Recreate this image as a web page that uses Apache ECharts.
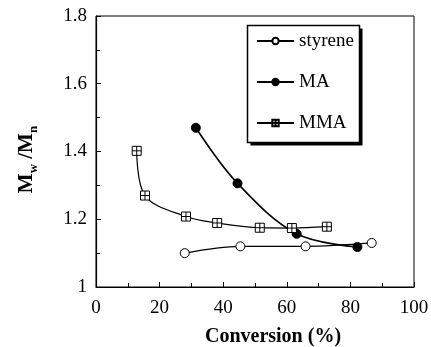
<!DOCTYPE html>
<html>
<head>
<meta charset="utf-8">
<script src="https://cdn.jsdelivr.net/npm/echarts@6/dist/echarts.min.js"></script>
<style>
html,body{margin:0;padding:0;background:#fff;}
#chart{width:431px;height:347px;}
</style>
</head>
<body>
<div id="chart"></div>
<script>
// Data
const seriesNames = ['styrene', 'MA', 'MMA'];
const styreneX = [27.9, 45.4, 65.9, 86.7];
const styreneY = [1.10, 1.12, 1.12, 1.13];
const maX = [31.4, 44.5, 63.1, 82.2];
const maY = [1.47, 1.306, 1.157, 1.118];
const mmaX = [12.8, 15.4, 28.3, 38.1, 51.5, 61.6, 72.6];
const mmaY = [1.402, 1.27, 1.208, 1.189, 1.175, 1.174, 1.178];
const xTicks = [0, 20, 40, 60, 80, 100];
const yTicks = [1, 1.2, 1.4, 1.6, 1.8];

const pair = (xs, ys) => xs.map((x, i) => [x, ys[i]]);
const FONT = '"Liberation Serif", "Times New Roman", serif';
const boxCross = 'path://M0 0 L10 0 L10 10 L0 10 Z M5 0 L5 10 M0 5 L10 5';

const chart = echarts.init(document.getElementById('chart'), null, {renderer: 'canvas'});
chart.setOption({
  animation: false,
  backgroundColor: '#fff',
  grid: {left: 96, top: 16, right: 17, bottom: 60, show: true, borderColor: '#000', borderWidth: 1,
         containLabel: false, outerBoundsMode: 'none'},
  graphic: [
    {type: 'rect', z: 5, silent: true, shape: {x: 250.5, y: 28.5, width: 112, height: 117},
     style: {fill: '#000', stroke: null}},
    {type: 'rect', z: 6, silent: true, shape: {x: 247.5, y: 25.5, width: 112, height: 117},
     style: {fill: '#fff', stroke: '#000', lineWidth: 1.5}}
  ],
  legend: {
    z: 10,
    orient: 'vertical',
    left: 247, top: 25,
    padding: [6, 12, 9, 9],
    itemGap: 21,
    itemWidth: 37, itemHeight: 8,
    textStyle: {fontFamily: FONT, fontSize: 19, color: '#000', lineHeight: 20},
    data: seriesNames
  },
  xAxis: {
    type: 'value', min: xTicks[0], max: xTicks[xTicks.length - 1], interval: 20,
    name: 'Conversion (%)', nameLocation: 'middle', nameGap: 40,
    nameTextStyle: {fontFamily: FONT, fontSize: 20, fontWeight: 'bold', color: '#000', padding: [0, 0, 0, 36]},
    axisLine: {lineStyle: {color: '#000', width: 1.2}},
    axisTick: {inside: true, length: 5, lineStyle: {color: '#000'}},
    minorTick: {show: true, splitNumber: 2, length: 4, lineStyle: {color: '#000'}},
    axisLabel: {fontFamily: FONT, fontSize: 19, color: '#000', margin: 12},
    splitLine: {show: false}
  },
  yAxis: {
    type: 'value', min: yTicks[0], max: yTicks[yTicks.length - 1], interval: 0.2,
    name: '{m|M}{s|w}{m| /M}{s|n}', nameLocation: 'middle', nameGap: 56, nameRotate: 90,
    nameTextStyle: {
      fontFamily: FONT, color: '#000', padding: [0, 16, 0, 0],
      rich: {
        m: {fontFamily: FONT, fontSize: 21, fontWeight: 'bold', color: '#000', lineHeight: 26, verticalAlign: 'middle'},
        s: {fontFamily: FONT, fontSize: 13, fontWeight: 'bold', color: '#000', lineHeight: 26, verticalAlign: 'bottom'}
      }
    },
    axisLine: {show: true, lineStyle: {color: '#000', width: 1.2}},
    axisTick: {show: true, inside: true, length: 5, lineStyle: {color: '#000'}},
    minorTick: {show: true, splitNumber: 2, length: 4, lineStyle: {color: '#000'}},
    axisLabel: {fontFamily: FONT, fontSize: 19, color: '#000', margin: 9,
      formatter: v => String(yTicks.find(t => Math.abs(t - v) < 1e-6) ?? v)},
    splitLine: {show: false}
  },
  series: [
    {
      name: 'styrene', type: 'line', data: pair(styreneX, styreneY),
      smooth: 0.35, symbol: 'circle', symbolSize: 9,
      lineStyle: {color: '#000', width: 1.2},
      itemStyle: {color: '#fff', borderColor: '#000', borderWidth: 1}
    },
    {
      name: 'MA', type: 'line', data: pair(maX, maY),
      smooth: 0.35, symbol: 'circle', symbolSize: 9,
      lineStyle: {color: '#000', width: 1.6},
      itemStyle: {color: '#000', borderColor: '#000', borderWidth: 1}
    },
    {
      name: 'MMA', type: 'line', data: pair(mmaX, mmaY),
      smooth: 0.35, symbol: boxCross, symbolSize: 9,
      lineStyle: {color: '#000', width: 1.2},
      itemStyle: {color: '#fff', borderColor: '#000', borderWidth: 1}
    }
  ]
});
</script>
</body>
</html>
